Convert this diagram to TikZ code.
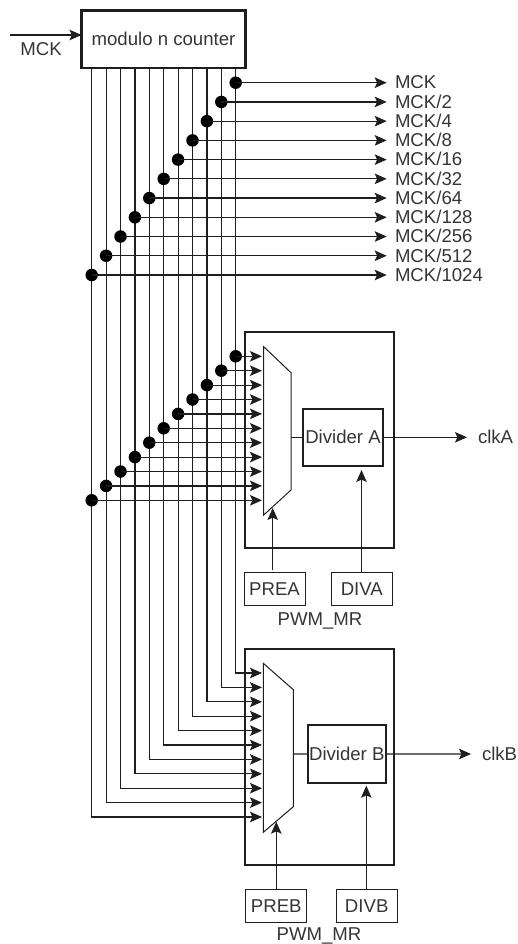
\documentclass[tikz,border=0pt]{standalone}
\usepackage{fontspec}
\setmainfont{Liberation Sans}
\usetikzlibrary{arrows.meta}
\definecolor{ink}{HTML}{1E1E1E}
\tikzset{
  wire/.style={draw=ink,line width=1.2pt},
  arrowwire/.style={wire,-{Stealth[length=12pt,width=10.5pt,inset=2.4pt]}},
  txt/.style={font=\fontsize{18.6}{20}\selectfont,text=ink!90,inner sep=0pt,outer sep=0pt,anchor=base},
  txtl/.style={txt,anchor=base west},
  thickbox/.style={draw=ink,line width=2.2pt,inner sep=0pt,outer sep=0pt,font=\fontsize{18.6}{20}\selectfont,text=ink!90},
  regbox/.style={draw=ink,line width=1pt,inner sep=0pt,outer sep=0pt,font=\fontsize{18.6}{20}\selectfont,text=ink!90},
  muxshape/.style={draw=ink,line width=1pt,line join=miter},
  dot/.style={circle,fill=black,inner sep=0pt,minimum size=12.5pt,outer sep=0pt},
}
\begin{document}
\begin{tikzpicture}[x=1pt,y=-1pt]
\useasboundingbox (0,0) rectangle (518,944);
% counter
\node[thickbox,minimum width=164pt,minimum height=57.5pt] (cnt) at (163.5,39.2) {modulo n counter};
\coordinate (mckin) at (10,35);
\draw[arrowwire] (mckin) -- (mckin -| cnt.west);
\node[txt] (mcklabel) at (41,55.7) {MCK};
% enclosing boxes
\node[thickbox,minimum width=149pt,minimum height=216pt] (boxA) at (319.5,440) {};
\node[thickbox,minimum width=149pt,minimum height=216pt] (boxB) at (319.5,757) {};
% muxes
\draw[muxshape] (263.7,346.7) -- (291,372.7) -- (291,490) -- (263.7,515) -- cycle;
\draw[muxshape] (263.3,663.3) -- (293.3,689.7) -- (293.3,806.7) -- (263.3,832.3) -- cycle;
\coordinate (muxAout) at (291,437.3);
\coordinate (muxBout) at (293.3,754);
\coordinate (muxAsel) at (272.7,508);
\coordinate (muxBsel) at (276.3,821.7);
% dividers
\node[thickbox,minimum width=79.4pt,minimum height=57.3pt] (divA) at (343,437.3) {Divider A};
\node[thickbox,minimum width=78.3pt,minimum height=57.7pt] (divB) at (346.8,753.9) {Divider B};
\draw[wire] (muxAout) -- (divA.west);
\draw[wire] (muxBout) -- (divB.west);
\coordinate (clkAend) at (467,437.3);
\coordinate (clkBend) at (471,754);
\draw[arrowwire] (divA.east) -- (clkAend);
\draw[arrowwire] (divB.east) -- (clkBend);
\node[txtl] (clkA) at (478,443.5) {clkA};
\node[txtl] (clkB) at (482,760.7) {clkB};
% registers
\node[regbox,minimum width=61pt,minimum height=33.3pt] (prea) at (274.5,589.3) {PREA};
\node[regbox,minimum width=61pt,minimum height=33.3pt] (diva) at (361.8,589.3) {DIVA};
\node[regbox,minimum width=60.7pt,minimum height=33.3pt] (preb) at (276.3,906.3) {PREB};
\node[regbox,minimum width=60.7pt,minimum height=33.3pt] (divb) at (366.7,906.3) {DIVB};
\node[txt] (mrA) at (320,625) {PWM\_MR};
\node[txt] (mrB) at (319,940) {PWM\_MR};
\coordinate (preaup) at (272.7,569.5);
\coordinate (divaend) at (361.5,470);
\coordinate (divbend) at (366.3,785.7);
\draw[arrowwire] (preaup) -- (muxAsel);
\draw[arrowwire] (diva.north -| divaend) -- (divaend);
\draw[arrowwire] (preb.north -| muxBsel) -- (muxBsel);
\draw[arrowwire] (divb.north -| divbend) -- (divbend);
% clock lines
\foreach \i/\t in {10/MCK,9/MCK\slash 2,8/MCK\slash 4,7/MCK\slash 8,6/MCK\slash 16,5/MCK\slash 32,4/MCK\slash 64,3/MCK\slash 128,2/MCK\slash 256,1/MCK\slash 512,0/MCK\slash 1024}{
  \pgfmathsetmacro{\vx}{91.7+14.4*\i}
  \pgfmathsetmacro{\ry}{82.7+19.23*(10-\i)}
  \pgfmathsetmacro{\ay}{356.3+14.4*(10-\i)}
  \pgfmathsetmacro{\by}{673+14.4*(10-\i)}
  \coordinate (top\i) at (\vx,68);
  \coordinate (inB\i) at (262,\by);
  \coordinate (inA\i) at (262,\ay);
  \coordinate (out\i) at (386.7,\ry);
  \draw[arrowwire] (top\i) -- (top\i |- inB\i) -- (inB\i);
  \node[dot] (d\i) at (\vx,\ry) {};
  \node[dot] (e\i) at (\vx,\ay) {};
  \draw[arrowwire] (d\i.center) -- (out\i);
  \draw[arrowwire] (e\i.center) -- (inA\i);
  \node[txtl] (lab\i) at (395,\ry+6.3) {\t};
}
\end{tikzpicture}
\end{document}
